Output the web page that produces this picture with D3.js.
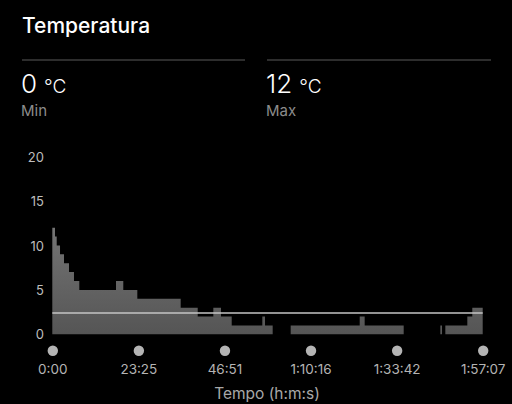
<!DOCTYPE html>
<html>
<head>
<meta charset="utf-8">
<script src="https://cdn.jsdelivr.net/npm/d3@7"></script>
<style>
  html, body { margin: 0; padding: 0; background: #000; }
  svg { display: block; }
</style>
</head>
<body>
<svg id="chart" width="512" height="404"></svg>
<script>
// ---- data ----
const title = "Temperatura";
const minValue = 0, maxValue = 12, unit = "°C";
const minLabel = "Min", maxLabel = "Max";
const stepStarts = [0, 44, 72, 126, 191, 273, 354, 441, 1040, 1159, 1388, 2096, 2374, 2629, 2754, 2929, 3429, 3473, 3598, 3892, 5019, 5100, 5737, 6335, 6363, 6417, 6776, 6857];
const stepValues = [12, 11, 10, 9, 8, 7, 6, 5, 6, 5, 4, 3, 2, 3, 2, 1, 2, 1, 0, 1, 2, 1, 0, 1, 0, 1, 2, 3];
const totalSeconds = 7027;
const averageValue = 2.4;
const xTickSeconds = [0, 1405, 2811, 4216, 5622, 7027];
const xTickLabels = ["0:00", "23:25", "46:51", "1:10:16", "1:33:42", "1:57:07"];
const yTicks = [0, 5, 10, 15, 20];
const xAxisTitle = "Tempo (h:m:s)";

// ---- drawing ----
const svg = d3.select("#chart");
const font = "Inter, 'Noto Sans', sans-serif";

svg.append("rect").attr("width", 512).attr("height", 404).attr("fill", "#000");

// header
svg.append("text").attr("x", 22).attr("y", 33).attr("fill", "#fff")
  .attr("font-family", font).attr("font-size", 21).attr("font-weight", 500)
  .text(title);

[[22, 245], [267, 491]].forEach(([a, b]) => {
  svg.append("line").attr("x1", a).attr("x2", b).attr("y1", 60).attr("y2", 60)
    .attr("stroke", "#3c3c3c").attr("stroke-width", 1.5);
});

function stat(x, val, label) {
  const t = svg.append("text").attr("x", x).attr("y", 92.5).attr("fill", "#fff")
    .attr("font-family", font);
  t.append("tspan").attr("font-size", 26).attr("font-weight", 300).text(val);
  t.append("tspan").attr("font-size", 19).attr("font-weight", 300).attr("dx", 7).text(unit);
  svg.append("text").attr("x", x).attr("y", 116).attr("fill", "#8c8c8c")
    .attr("font-family", font).attr("font-size", 15).attr("font-weight", 400).text(label);
}
stat(21, minValue, minLabel);
stat(266, maxValue, maxLabel);

// scales
const x = d3.scaleLinear().domain([0, totalSeconds]).range([52.3, 482.7]);
const y = d3.scaleLinear().domain([0, 20]).range([334.3, 156.6]);

// gradient
const defs = svg.append("defs");
const grad = defs.append("linearGradient").attr("id", "barGrad")
  .attr("gradientUnits", "userSpaceOnUse")
  .attr("x1", 0).attr("x2", 0).attr("y1", y(12)).attr("y2", y(0));
grad.append("stop").attr("offset", "0%").attr("stop-color", "#747474");
grad.append("stop").attr("offset", "100%").attr("stop-color", "#555555");

// step area
const pts = stepStarts.map((t, i) => ({ t, v: stepValues[i] }));
pts.push({ t: totalSeconds, v: stepValues[stepValues.length - 1] });
const area = d3.area().x(d => x(d.t)).y0(y(0)).y1(d => y(d.v)).curve(d3.curveStepAfter);
svg.append("path").datum(pts).attr("d", area).attr("fill", "url(#barGrad)");

// average line
svg.append("line").attr("x1", x(0)).attr("x2", x(totalSeconds))
  .attr("y1", y(averageValue)).attr("y2", y(averageValue))
  .attr("stroke", "#c4c4c4").attr("stroke-width", 1.5);

// y axis labels
const yAxis = d3.axisLeft(y).tickValues(yTicks).tickSize(0).tickPadding(0);
const yg = svg.append("g").attr("transform", "translate(44,0)").call(yAxis);
yg.select(".domain").remove();
yg.selectAll("text").attr("fill", "#bdbdbd").attr("font-family", font).attr("font-size", 13)
  .attr("dy", "0.36em");

// x axis: dots + labels
const xAxis = d3.axisBottom(x).tickValues(xTickSeconds)
  .tickFormat((d, i) => xTickLabels[i]).tickSize(0).tickPadding(0);
const xg = svg.append("g").attr("transform", "translate(0,0)").call(xAxis);
xg.select(".domain").remove();
xg.selectAll(".tick").append("circle").attr("cy", 350.7).attr("r", 5.2).attr("fill", "#b4b4b4");
xg.selectAll("text").attr("y", 373.5).attr("dy", 0).attr("fill", "#b4b4b4")
  .attr("font-family", font).attr("font-size", 13.5);

svg.append("text").attr("x", 267).attr("y", 399).attr("text-anchor", "middle")
  .attr("fill", "#a8a8a8").attr("font-family", font).attr("font-size", 15.5).text(xAxisTitle);
</script>
</body>
</html>
